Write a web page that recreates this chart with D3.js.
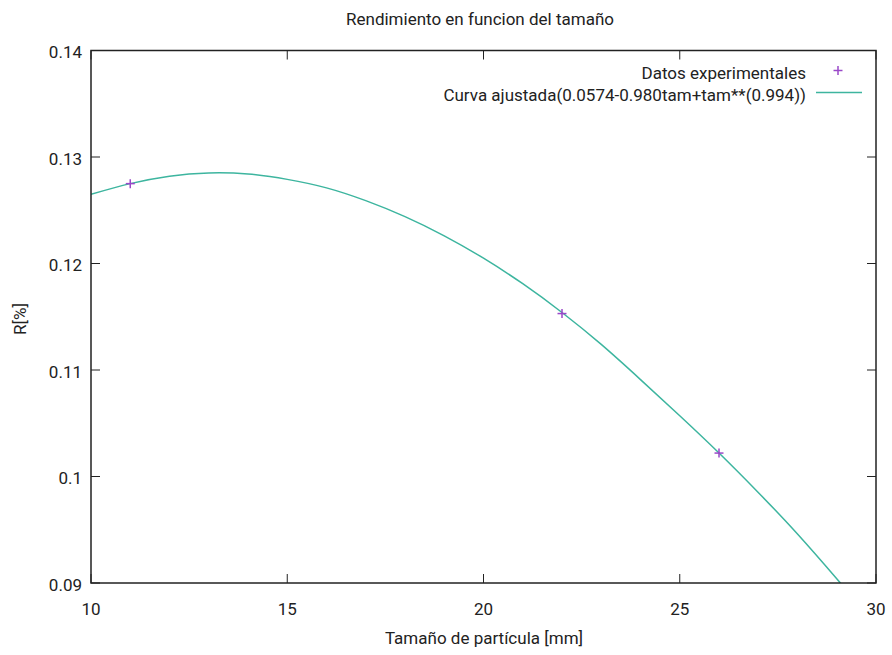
<!DOCTYPE html>
<html>
<head>
<meta charset="utf-8">
<script src="https://cdn.jsdelivr.net/npm/d3@7"></script>
<style>
  html, body { margin: 0; padding: 0; background: #fff; }
  svg { display: block; font-family: Roboto, "Noto Sans", sans-serif; }
</style>
</head>
<body>
<svg id="chart" width="892" height="655"></svg>
<script>
// Measured yield for each particle size
const sizes = [11, 22, 26];
const yields = [0.1275, 0.1153, 0.1022];

// Fitted curve, sampled along the size axis
const fitSizes = [10, 11, 12, 13, 14, 15, 16, 17, 18, 19, 20, 21, 22, 23, 24, 25, 26, 27, 28, 29, 29.3];
const fitYields = [0.1265, 0.1275, 0.1282, 0.1285, 0.1284, 0.1279, 0.1271, 0.1259, 0.1244, 0.1226,
                   0.1205, 0.1181, 0.1154, 0.1124, 0.1091, 0.1057, 0.1022, 0.0985, 0.0946, 0.0904, 0.0891];

const xTicks = [10, 15, 20, 25, 30];
const yTicks = [0.09, 0.1, 0.11, 0.12, 0.13, 0.14];

const titleText = "Rendimiento en funcion del tamaño";
const xLabel = "Tamaño de partícula [mm]";
const yLabel = "R[%]";
const legendLabels = ["Datos experimentales", "Curva ajustada(0.0574-0.980tam+tam**(0.994))"];

const W = 892, H = 655;
const m = { left: 91, right: 16, top: 50.5, bottom: 72 };
const pw = W - m.left - m.right, ph = H - m.top - m.bottom;
const fs = 17;

const svg = d3.select("#chart");
const x = d3.scaleLinear().domain([10, 30]).range([m.left, m.left + pw]);
const y = d3.scaleLinear().domain([0.09, 0.14]).range([m.top + ph, m.top]);

const ink = "#222";
const fitColor = "#3db59f";
const ptColor = "#9a48c8";
const tickLen = 9;

// Tick marks on all four sides (inward)
const tickG = svg.append("g").attr("stroke", ink).attr("stroke-width", 1);
xTicks.forEach(t => {
  tickG.append("line").attr("x1", x(t)).attr("x2", x(t)).attr("y1", y(0.09)).attr("y2", y(0.09) - tickLen);
  tickG.append("line").attr("x1", x(t)).attr("x2", x(t)).attr("y1", y(0.14)).attr("y2", y(0.14) + tickLen);
});
yTicks.forEach(t => {
  tickG.append("line").attr("x1", x(10)).attr("x2", x(10) + tickLen).attr("y1", y(t)).attr("y2", y(t));
  tickG.append("line").attr("x1", x(30)).attr("x2", x(30) - tickLen).attr("y1", y(t)).attr("y2", y(t));
});

// Tick labels
svg.append("g").selectAll("text").data(xTicks).join("text")
  .attr("x", d => x(d)).attr("y", y(0.09) + 32)
  .attr("text-anchor", "middle").attr("font-size", fs).attr("fill", ink)
  .text(d => d);
svg.append("g").selectAll("text").data(yTicks).join("text")
  .attr("x", x(10) - 9).attr("y", d => y(d) + 7.5)
  .attr("text-anchor", "end").attr("font-size", fs).attr("fill", ink)
  .text(d => d3.format("")(d));

// Clip for the data
svg.append("clipPath").attr("id", "plotClip").append("rect")
  .attr("x", m.left).attr("y", m.top).attr("width", pw).attr("height", ph);

const fitData = fitSizes.map((s, i) => [s, fitYields[i]]);
svg.append("path").datum(fitData)
  .attr("clip-path", "url(#plotClip)")
  .attr("fill", "none").attr("stroke", fitColor).attr("stroke-width", 1.5)
  .attr("d", d3.line().x(d => x(d[0])).y(d => y(d[1])).curve(d3.curveNatural));

// Experimental points as plus markers
const plus = (g, cx, cy) => {
  g.append("line").attr("x1", cx - 4.5).attr("x2", cx + 4.5).attr("y1", cy).attr("y2", cy);
  g.append("line").attr("x1", cx).attr("x2", cx).attr("y1", cy - 4.5).attr("y2", cy + 4.5);
};
const ptG = svg.append("g").attr("stroke", ptColor).attr("stroke-width", 1.5);
sizes.forEach((s, i) => plus(ptG, x(s), y(yields[i])));

// Frame
svg.append("rect").attr("x", m.left).attr("y", m.top).attr("width", pw).attr("height", ph)
  .attr("fill", "none").attr("stroke", ink).attr("stroke-width", 1.5);

// Legend
const lgX = 806;
svg.append("text").attr("x", lgX).attr("y", 79).attr("text-anchor", "end")
  .attr("font-size", fs).attr("fill", ink).text(legendLabels[0]);
plus(svg.append("g").attr("stroke", ptColor).attr("stroke-width", 1.5), 838, 70.5);
svg.append("text").attr("x", lgX).attr("y", 101).attr("text-anchor", "end")
  .attr("font-size", fs).attr("fill", ink).text(legendLabels[1]);
svg.append("line").attr("x1", 816).attr("x2", 862).attr("y1", 92.5).attr("y2", 92.5)
  .attr("stroke", fitColor).attr("stroke-width", 1.5);

// Titles
svg.append("text").attr("x", 480).attr("y", 25).attr("text-anchor", "middle")
  .attr("font-size", fs).attr("fill", ink).text(titleText);
svg.append("text").attr("x", 484).attr("y", 644).attr("text-anchor", "middle")
  .attr("font-size", fs).attr("fill", ink).text(xLabel);
svg.append("text").attr("transform", "translate(26,319) rotate(-90)")
  .attr("text-anchor", "middle").attr("font-size", fs).attr("fill", ink).text(yLabel);
</script>
</body>
</html>
